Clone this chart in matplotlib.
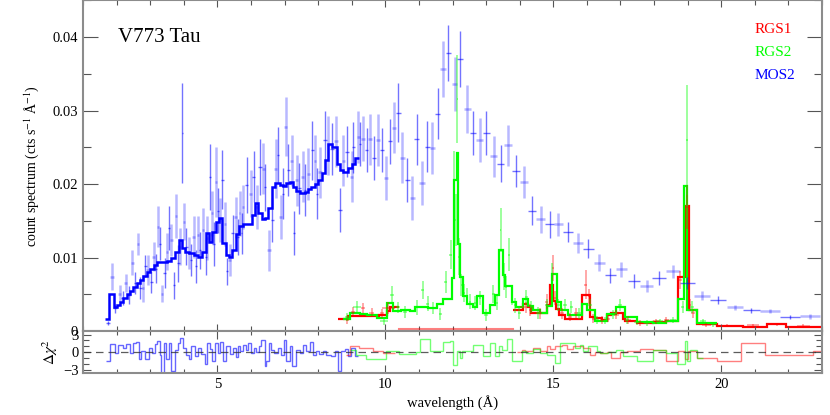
import numpy as np
import matplotlib.pyplot as plt
import matplotlib.ticker as ticker

plt.rcParams['font.family'] = ['Liberation Serif', 'DejaVu Serif']
plt.rcParams['mathtext.fontset'] = 'stix'

######### MOS2 data (wavelength, counts, 1-sigma)
mos_wl = [1.74, 1.87, 1.96, 2.09, 2.18, 2.27, 2.37, 2.47, 2.56, 2.64,
          2.71, 2.79, 2.86, 2.93, 3.03, 3.10, 3.16, 3.23, 3.30, 3.36,
          3.43, 3.50, 3.56, 3.63, 3.70, 3.76, 3.84, 3.90, 3.96, 4.00,
          4.08, 4.15, 4.22, 4.29, 4.37, 4.42, 4.49, 4.57, 4.65, 4.70,
          4.77, 4.83, 4.89, 4.97, 5.02, 5.07, 5.15, 5.22, 5.29, 5.37,
          5.46, 5.54, 5.61, 5.66, 5.72, 5.77, 5.87, 5.99, 6.09, 6.17,
          6.27, 6.37, 6.42, 6.54, 6.64, 6.74, 6.81, 6.88, 6.96, 7.03,
          7.11, 7.21, 7.28, 7.36, 7.44, 7.54, 7.61, 7.71, 7.83, 7.91,
          7.97, 8.05, 8.20, 8.30, 8.40, 8.53, 8.65, 8.75, 8.85, 9.00,
          9.05, 9.19, 9.24, 9.34, 9.44, 9.54, 9.66, 9.79, 9.89, 10.02,
          10.14, 10.26, 10.39, 10.51, 10.65, 10.80, 10.93, 11.09, 11.25, 11.40,
          11.56, 11.72, 11.88, 12.06, 12.23, 12.44, 12.62, 12.81, 13.01, 13.23,
          13.43, 13.66, 13.89, 14.12, 14.37, 14.62, 14.90, 15.15, 15.44, 15.74,
          16.04, 16.37, 16.69, 17.03, 17.40, 17.78, 18.15, 18.57, 18.99, 19.43,
          19.91, 20.41, 20.90, 21.45, 22.04, 22.64]
mos_cts = [0.0011, 0.0074, 0.0031, 0.0051, 0.0045, 0.0065, 0.0049, 0.0093, 0.0065, 0.0118,
           0.0058, 0.0058, 0.0088, 0.0083, 0.0067, 0.0101, 0.0085, 0.0142, 0.0119, 0.0051,
           0.0079, 0.0108, 0.0140, 0.0124, 0.0062, 0.0156, 0.0092, 0.0115, 0.0269, 0.0149,
           0.0115, 0.0106, 0.0097, 0.0128, 0.0088, 0.0131, 0.0110, 0.0138, 0.0101, 0.0126,
           0.0210, 0.0160, 0.0119, 0.0203, 0.0164, 0.0151, 0.0206, 0.0146, 0.0081, 0.0097,
           0.0133, 0.0155, 0.0128, 0.0160, 0.0133, 0.0169, 0.0199, 0.0187, 0.0210, 0.0169,
           0.0223, 0.0221, 0.0196, 0.0110, 0.0151, 0.0221, 0.0240, 0.0155, 0.0187, 0.0278,
           0.0219, 0.0232, 0.0133, 0.0205, 0.0194, 0.0210, 0.0192, 0.0214, 0.0246, 0.0232,
           0.0187, 0.0216, 0.0260, 0.0253, 0.0248, 0.0258, 0.0165, 0.0232, 0.0244, 0.0210,
           0.0250, 0.0264, 0.0255, 0.0262, 0.0246, 0.0261, 0.0235, 0.0260, 0.0246, 0.0208,
           0.0258, 0.0277, 0.0297, 0.0236, 0.0205, 0.0181, 0.0261, 0.0202, 0.0251, 0.0249,
           0.0296, 0.0357, 0.0378, 0.0336, 0.0370, 0.0302, 0.0270, 0.0260, 0.0269, 0.0238,
           0.0228, 0.0253, 0.0218, 0.0203, 0.0164, 0.0152, 0.0145, 0.0145, 0.0135, 0.0120,
           0.0112, 0.0093, 0.0076, 0.0084, 0.0068, 0.0061, 0.0072, 0.0081, 0.0065, 0.0048,
           0.0042, 0.0032, 0.0028, 0.0027, 0.0019, 0.0020]
mos_err = [0.0003, 0.0018, 0.0006, 0.0012, 0.0010, 0.0012, 0.0012, 0.0017, 0.0015, 0.0015,
           0.0015, 0.0018, 0.0015, 0.0020, 0.0015, 0.0020, 0.0020, 0.0028, 0.0022, 0.0012,
           0.0020, 0.0025, 0.0030, 0.0022, 0.0018, 0.0030, 0.0025, 0.0025, 0.0068, 0.0025,
           0.0025, 0.0022, 0.0022, 0.0028, 0.0022, 0.0025, 0.0025, 0.0030, 0.0025, 0.0030,
           0.0045, 0.0030, 0.0030, 0.0048, 0.0030, 0.0030, 0.0040, 0.0030, 0.0018, 0.0022,
           0.0025, 0.0028, 0.0025, 0.0030, 0.0028, 0.0030, 0.0038, 0.0032, 0.0035, 0.0030,
           0.0038, 0.0035, 0.0032, 0.0028, 0.0030, 0.0040, 0.0038, 0.0030, 0.0035, 0.0040,
           0.0035, 0.0035, 0.0030, 0.0035, 0.0035, 0.0035, 0.0035, 0.0035, 0.0040, 0.0035,
           0.0035, 0.0035, 0.0040, 0.0040, 0.0035, 0.0035, 0.0030, 0.0035, 0.0035, 0.0035,
           0.0035, 0.0035, 0.0030, 0.0030, 0.0030, 0.0035, 0.0030, 0.0035, 0.0030, 0.0030,
           0.0030, 0.0035, 0.0040, 0.0035, 0.0030, 0.0030, 0.0035, 0.0030, 0.0035, 0.0035,
           0.0035, 0.0038, 0.0038, 0.0037, 0.0038, 0.0033, 0.0030, 0.0030, 0.0030, 0.0028,
           0.0025, 0.0028, 0.0022, 0.0022, 0.0020, 0.0018, 0.0018, 0.0016, 0.0014, 0.0014,
           0.0013, 0.0012, 0.0010, 0.0010, 0.0009, 0.0008, 0.0009, 0.0009, 0.0008, 0.0006,
           0.0005, 0.0004, 0.0003, 0.0003, 0.0003, 0.0003]

######### MOS2 model (bin edges / values)
mos_mod_edges = [1.65, 1.78, 1.91, 2.00, 2.10, 2.20, 2.30, 2.40, 2.50, 2.60,
                 2.70, 2.80, 2.90, 3.00, 3.10, 3.20, 3.35, 3.50, 3.63, 3.73,
                 3.85, 3.95, 4.05, 4.15, 4.30, 4.42, 4.55, 4.65, 4.75, 4.85,
                 4.95, 5.05, 5.15, 5.25, 5.35, 5.45, 5.55, 5.65, 5.75, 5.90,
                 6.02, 6.12, 6.22, 6.32, 6.42, 6.52, 6.62, 6.72, 6.85, 6.95,
                 7.05, 7.15, 7.25, 7.35, 7.45, 7.60, 7.70, 7.80, 7.90, 8.00,
                 8.10, 8.20, 8.30, 8.42, 8.55, 8.65, 8.75, 8.90, 9.00, 9.10, 9.22]
mos_mod = [0.0016, 0.0050, 0.0032, 0.0036, 0.0040, 0.0045, 0.0050, 0.0055, 0.0060, 0.0065,
           0.0070, 0.0075, 0.0080, 0.0085, 0.0090, 0.0094, 0.0094, 0.0095, 0.0100, 0.0108,
           0.0124, 0.0113, 0.0108, 0.0106, 0.0103, 0.0101, 0.0108, 0.0133, 0.0121, 0.0135,
           0.0148, 0.0154, 0.0120, 0.0103, 0.0101, 0.0110, 0.0132, 0.0143, 0.0145, 0.0145,
           0.0158, 0.0174, 0.0160, 0.0152, 0.0154, 0.0168, 0.0196, 0.0201, 0.0199, 0.0197,
           0.0201, 0.0203, 0.0196, 0.0190, 0.0188, 0.0189, 0.0193, 0.0196, 0.0200, 0.0206,
           0.0215, 0.0233, 0.0254, 0.0250, 0.0228, 0.0219, 0.0217, 0.0222, 0.0228, 0.0235]

######### RGS2 data
rgs2_wl = [8.87, 9.15, 9.95, 10.19, 10.38, 10.58, 10.93, 11.11, 11.26, 11.43,
           11.63, 11.80, 11.94, 12.04, 12.10, 12.14, 12.18, 12.26, 12.34, 12.42,
           12.52, 12.67, 12.82, 13.00, 13.21, 13.33, 13.43, 13.53, 13.59, 13.68,
           13.76, 13.86, 13.99, 14.20, 14.35, 14.55, 14.80, 14.97, 15.15, 15.35,
           15.54, 15.77, 16.09, 16.31, 16.54, 16.77, 16.98, 17.20, 17.48, 17.78,
           18.17, 18.57, 18.85, 18.97, 19.12, 19.46, 19.76]
rgs2_cts = [0.0019, 0.0033, 0.0013, 0.0049, 0.0032, 0.0026, 0.0032, 0.0056, 0.0037, 0.0031,
            0.0023, 0.0067, 0.0104, 0.0205, 0.0151, 0.0316, 0.0101, 0.0063, 0.0052, 0.0047,
            0.0040, 0.0038, 0.0045, 0.0022, 0.0050, 0.0038, 0.0137, 0.0074, 0.0060, 0.0104,
            0.0047, 0.0035, 0.0025, 0.0046, 0.0033, 0.0025, 0.0035, 0.0077, 0.0035, 0.0035,
            0.0033, 0.0024, 0.0035, 0.0015, 0.0014, 0.0022, 0.0035, 0.0015, 0.0012, 0.0011,
            0.0013, 0.0015, 0.0033, 0.0260, 0.0033, 0.0013, 0.0009]
rgs2_err = [0.0006, 0.0008, 0.0005, 0.0012, 0.0008, 0.0008, 0.0010, 0.0012, 0.0010, 0.0008,
            0.0008, 0.0015, 0.0020, 0.0040, 0.0035, 0.0060, 0.0025, 0.0015, 0.0012, 0.0012,
            0.0010, 0.0010, 0.0010, 0.0008, 0.0012, 0.0010, 0.0030, 0.0018, 0.0015, 0.0022,
            0.0012, 0.0010, 0.0008, 0.0010, 0.0008, 0.0008, 0.0008, 0.0016, 0.0008, 0.0008,
            0.0008, 0.0007, 0.0008, 0.0005, 0.0005, 0.0006, 0.0008, 0.0005, 0.0004, 0.0004,
            0.0004, 0.0004, 0.0008, 0.0075, 0.0008, 0.0004, 0.0003]

######### RGS1 data
rgs1_wl = [8.87, 9.05, 9.34, 9.59, 9.89, 10.09, 14.20, 14.32, 14.60, 14.80,
           14.98, 15.05, 15.25, 15.49, 15.69, 15.97, 16.07, 16.19, 16.44, 16.64,
           16.88, 17.23, 17.58, 18.07, 18.37, 18.77, 18.97, 19.07, 19.17, 19.56,
           20.16, 20.95, 21.65, 22.44]
rgs1_cts = [0.0015, 0.0026, 0.0031, 0.0025, 0.0024, 0.0031, 0.0032, 0.0029, 0.0024, 0.0040,
            0.0086, 0.0045, 0.0024, 0.0019, 0.0024, 0.0063, 0.0047, 0.0017, 0.0015, 0.0017,
            0.0022, 0.0015, 0.0011, 0.0013, 0.0015, 0.0069, 0.0169, 0.0035, 0.0024, 0.0008,
            0.0007, 0.0008, 0.0009, 0.0007]
rgs1_err = [0.0005, 0.0007, 0.0007, 0.0006, 0.0006, 0.0008, 0.0008, 0.0008, 0.0007, 0.0010,
            0.0018, 0.0010, 0.0007, 0.0006, 0.0007, 0.0020, 0.0010, 0.0006, 0.0005, 0.0005,
            0.0006, 0.0005, 0.0004, 0.0004, 0.0004, 0.0012, 0.0030, 0.0008, 0.0006, 0.0003,
            0.0002, 0.0002, 0.0002, 0.0002]
rgs1_gap = [10.40, 13.80]

######### RGS models
rgs2_mod_edges = [8.75, 8.95, 9.25, 9.45, 9.74, 10.04, 10.24, 10.48, 10.73, 10.88,
                  11.08, 11.28, 11.53, 11.72, 11.97, 12.04, 12.12, 12.17, 12.22, 12.32,
                  12.44, 12.60, 12.74, 12.91, 13.11, 13.26, 13.38, 13.49, 13.56, 13.76,
                  13.88, 14.10, 14.25, 14.40, 14.60, 14.82, 14.95, 15.10, 15.22, 15.45,
                  15.84, 15.99, 16.24, 16.59, 16.88, 17.13, 17.48, 17.98, 18.37, 18.72,
                  18.89, 18.97, 19.27, 19.86]
rgs2_mod = [0.0017, 0.0025, 0.0023, 0.0022, 0.0018, 0.0038, 0.0027, 0.0028, 0.0027, 0.0032,
            0.0032, 0.0031, 0.0037, 0.0043, 0.0072, 0.0205, 0.0242, 0.0119, 0.0073, 0.0048,
            0.0037, 0.0033, 0.0048, 0.0024, 0.0035, 0.0049, 0.0110, 0.0076, 0.0061, 0.0040,
            0.0033, 0.0043, 0.0034, 0.0029, 0.0025, 0.0034, 0.0078, 0.0040, 0.0028, 0.0022,
            0.0037, 0.0029, 0.0013, 0.0023, 0.0032, 0.0019, 0.0012, 0.0011, 0.0014, 0.0044,
            0.0197, 0.0029, 0.0011]

rgs1_mod_edges_a = [8.60, 8.90, 9.20, 9.50, 9.80, 10.05, 10.15, 10.40]
rgs1_mod_a = [0.0017, 0.0021, 0.0021, 0.0020, 0.0022, 0.0027, 0.0032]
rgs1_mod_edges_b = [13.80, 13.90, 14.10, 14.25, 14.35, 14.60, 14.80, 14.90, 15.00, 15.08,
                    15.18, 15.35, 15.84, 16.09, 16.24, 16.44, 16.59, 16.73, 17.08, 17.13,
                    17.48, 17.98, 18.37, 18.72, 18.94, 19.04, 19.27, 19.86, 20.65, 21.35,
                    21.94, 22.84, 23.00]
rgs1_mod_b = [0.0028, 0.0029, 0.0037, 0.0032, 0.0024, 0.0024, 0.0035, 0.0063, 0.0041, 0.0030,
              0.0022, 0.0017, 0.0049, 0.0019, 0.0018, 0.0015, 0.0022, 0.0024, 0.0017, 0.0013,
              0.0011, 0.0012, 0.0014, 0.0073, 0.0170, 0.0028, 0.0009, 0.0007, 0.0006, 0.0009,
              0.0006, 0.0005]

######### residuals (delta chi^2)
mos_res_edges = [1.69, 1.79, 1.94, 2.04, 2.19, 2.29, 2.39, 2.49, 2.59, 2.67,
                 2.74, 2.84, 2.96, 3.06, 3.13, 3.20, 3.28, 3.33, 3.40, 3.48,
                 3.56, 3.63, 3.73, 3.83, 3.90, 3.98, 4.06, 4.15, 4.22, 4.32,
                 4.42, 4.52, 4.62, 4.69, 4.77, 4.85, 4.92, 5.02, 5.09, 5.17,
                 5.27, 5.37, 5.46, 5.54, 5.61, 5.68, 5.76, 5.84, 5.91, 6.01,
                 6.08, 6.14, 6.24, 6.31, 6.41, 6.46, 6.54, 6.61, 6.70, 6.80,
                 6.90, 6.98, 7.05, 7.15, 7.23, 7.35, 7.45, 7.55, 7.65, 7.77,
                 7.85, 7.94, 8.04, 8.14, 8.24, 8.39, 8.49, 8.59, 8.69, 8.79,
                 8.89, 8.99, 9.09, 9.18]
mos_res = [-1.5, 1.4, -0.1, 1.3, 0.7, 1.4, -0.1, 1.6, 1.8, -1.2,
           0.2, -1.2, 0.7, -0.1, 1.4, 1.9, -0.5, -3.5, 1.6, -1.2,
           1.6, -3.2, 0.4, 1.6, 2.4, 0.7, -0.4, -1.2, 1.0, -0.7,
           0.7, -0.3, -2.0, 1.6, 0.6, -1.5, 1.6, -0.1, 1.8, -1.4,
           1.0, -0.3, 0.7, -0.8, 1.0, 0.2, 1.3, 0.4, 1.6, -0.1,
           0.7, 0.1, 1.0, 2.0, -2.4, -1.5, 1.6, 0.4, -0.1, 0.7,
           -0.4, 2.1, -1.5, 1.0, -2.4, 0.4, -0.1, 1.3, 0.2, 1.8,
           -0.4, 0.2, -0.3, 0.3, -0.4, -0.6, 0.2, -3.2, 0.2, 0.6,
           -0.7, 0.7, -0.7]

rgs2_res_edges = [8.94, 9.13, 9.43, 10.03, 10.42, 10.92, 11.02, 11.32, 11.71, 11.92,
                  12.02, 12.12, 12.22, 12.27, 12.62, 12.92, 13.11, 13.26, 13.39, 13.46,
                  13.61, 13.76, 14.06, 14.20, 14.40, 14.60, 14.80, 15.05, 15.20, 15.64,
                  15.79, 15.89, 16.04, 16.29, 16.39, 16.64, 16.88, 17.08, 17.48, 17.97,
                  18.37, 18.69, 18.92, 18.97, 19.07, 19.27, 19.46]
rgs2_res = [0.4, -0.4, -1.2, 0.3, -0.3, 0.0, 2.2, 0.2, 1.8, 1.9,
            -2.1, 0.2, -1.0, 0.3, 1.2, -0.7, 1.6, -0.7, 1.0, 0.4,
            2.2, -1.5, 0.3, -0.1, 0.6, -0.1, -0.4, -1.8, 1.5, 0.7,
            1.3, 0.2, 1.0, 0.2, -0.1, 0.0, 0.4, -0.7, -1.4, 0.4,
            -0.1, -2.0, 1.9, -1.5, 0.4, -1.0]

rgs1_res_edges_a = [8.84, 8.94, 9.23, 9.63, 9.93, 10.28]
rgs1_res_a = [-0.5, 1.0, 0.8, 0.3, -0.1]
rgs1_res_edges_b = [13.91, 14.06, 14.16, 14.40, 14.60, 14.80, 14.90, 15.05, 15.25, 15.40,
                    15.59, 15.89, 16.09, 16.24, 16.39, 16.59, 16.73, 16.98, 17.18, 17.58,
                    17.97, 18.37, 18.72, 18.92, 19.02, 19.27, 19.86, 20.60, 21.30, 21.94,
                    22.74, 23.00]
rgs1_res_b = [0.05, 0.4, 0.3, 0.7, 0.2, 1.0, 0.6, 1.0, 1.2, 0.6,
              1.0, 0.8, -0.4, 0.05, -0.1, 0.05, -1.0, 0.0, 0.3, 0.6,
              0.4, -1.5, 0.3, -1.2, 0.2, -0.9, -1.5, 1.6, -0.4, -0.4,
              0.2]


def half_bins(x, scale=1.0, cap=None):
    x = np.asarray(x)
    d = np.diff(x)
    w = np.concatenate([[d[0]], (d[:-1] + d[1:]) / 2, [d[-1]]]) / 2 * scale
    if cap is not None:
        w = np.minimum(w, cap)
    return w


RED = '#ff0000'
GREEN = '#00ff00'
BLUE = '#0000ff'
SPINE = '#8c8c8c'

fig = plt.figure(figsize=(8.3, 4.15), dpi=100)
ax = fig.add_axes([0.1, 0.2024, 0.8904, 0.7966])
axr = fig.add_axes([0.1, 0.1012, 0.8904, 0.1012], sharex=ax)

########## main panel
mx = np.asarray(mos_wl)
my = np.asarray(mos_cts)
me = np.asarray(mos_err)
mxe = half_bins(mos_wl, 1.0, 0.32)
ax.errorbar(mx[::2], my[::2], yerr=me[::2], xerr=mxe[::2], fmt='none',
            ecolor=BLUE, elinewidth=1.0, alpha=0.55)
ax.errorbar(mx[1::2], my[1::2], yerr=me[1::2], xerr=mxe[1::2], fmt='none',
            ecolor=BLUE, elinewidth=1.8, alpha=0.28)

ax.errorbar(rgs1_wl, rgs1_cts, yerr=rgs1_err, xerr=half_bins(rgs1_wl, 0.5, 0.2),
            fmt='none', ecolor=RED, elinewidth=1.2, alpha=0.4)
ax.errorbar(rgs2_wl, rgs2_cts, yerr=rgs2_err, xerr=half_bins(rgs2_wl, 0.5, 0.12),
            fmt='none', ecolor=GREEN, elinewidth=1.2, alpha=0.45)
ax.plot(rgs1_gap, [0.0003, 0.0003], color=RED, lw=1.5, alpha=0.5)

ax.stairs(mos_mod, mos_mod_edges, baseline=None, color=BLUE, lw=1.8)
ax.stairs(rgs1_mod_a, rgs1_mod_edges_a, baseline=None, color=RED, lw=1.6)
ax.stairs(rgs1_mod_b, rgs1_mod_edges_b, baseline=None, color=RED, lw=1.6)
ax.stairs(rgs2_mod, rgs2_mod_edges, baseline=None, color=GREEN, lw=1.6)

ax.set_xlim(1, 23)
ax.set_ylim(0, 0.045)
ax.yaxis.set_major_locator(ticker.MultipleLocator(0.01))
ax.yaxis.set_minor_locator(ticker.MultipleLocator(0.005))
ax.yaxis.set_major_formatter(ticker.FuncFormatter(lambda v, p: '0' if abs(v) < 1e-9 else f'{v:.2f}'))
ax.xaxis.set_major_locator(ticker.MultipleLocator(5))
ax.xaxis.set_minor_locator(ticker.MultipleLocator(1))
ax.tick_params(axis='x', which='both', direction='in', top=True, bottom=True,
               labelbottom=False, color='#555555')
ax.tick_params(axis='x', which='major', length=5, width=0.8)
ax.tick_params(axis='x', which='minor', length=3.6, width=0.8)
ax.tick_params(axis='y', which='both', direction='in', left=True, right=True,
               color='#555555', labelsize=10.5)
ax.tick_params(axis='y', which='major', length=11, width=0.8)
ax.tick_params(axis='y', which='minor', length=5.5, width=0.8)
ax.set_ylabel('count spectrum (cts s$^{-1}$ Å$^{-1}$)', fontsize=10, labelpad=8)
for s in ax.spines.values():
    s.set_color(SPINE)
    s.set_linewidth(1.5)

ax.text(0.047, 0.888, 'V773 Tau', transform=ax.transAxes, fontsize=15, va='center', ha='left')
ax.text(0.909, 0.912, 'RGS1', transform=ax.transAxes, fontsize=11, color=RED, va='center')
ax.text(0.909, 0.843, 'RGS2', transform=ax.transAxes, fontsize=11, color=GREEN, va='center')
ax.text(0.909, 0.773, 'MOS2', transform=ax.transAxes, fontsize=11, color=BLUE, va='center')

########## residual panel
axr.axhline(0, color='#333333', lw=0.9, ls=(0, (6, 4)), alpha=0.8)
axr.stairs(mos_res, mos_res_edges, baseline=None, color=BLUE, lw=1.0, alpha=0.6)
axr.stairs(rgs1_res_a, rgs1_res_edges_a, baseline=None, color=RED, lw=1.0, alpha=0.5)
axr.stairs(rgs1_res_b, rgs1_res_edges_b, baseline=None, color=RED, lw=1.0, alpha=0.5)
axr.stairs(rgs2_res, rgs2_res_edges, baseline=None, color=GREEN, lw=1.0, alpha=0.55)

axr.set_ylim(-3.5, 3.6)
axr.yaxis.set_major_locator(ticker.FixedLocator([-3, 0, 3]))
axr.yaxis.set_major_formatter(ticker.FixedFormatter(['\u22123', '0', '3']))
axr.yaxis.set_minor_locator(ticker.MultipleLocator(1))
axr.tick_params(axis='x', which='both', direction='in', top=True, bottom=True,
                color='#555555', labelsize=10.5)
axr.tick_params(axis='x', which='major', length=6, width=0.8)
axr.tick_params(axis='x', which='minor', length=3, width=0.8)
axr.tick_params(axis='y', which='both', direction='in', left=True, right=True,
                color='#555555', labelsize=10.5, pad=3)
axr.tick_params(axis='y', which='major', length=6, width=0.8)
axr.tick_params(axis='y', which='minor', length=4, width=0.8)
axr.set_ylabel(r'$\Delta\chi^2$', fontsize=11, labelpad=2)
axr.set_xlabel('wavelength (Å)', fontsize=10.5, labelpad=3)
for s in axr.spines.values():
    s.set_color(SPINE)
    s.set_linewidth(1.5)

fig.savefig('out.png', dpi=100)
